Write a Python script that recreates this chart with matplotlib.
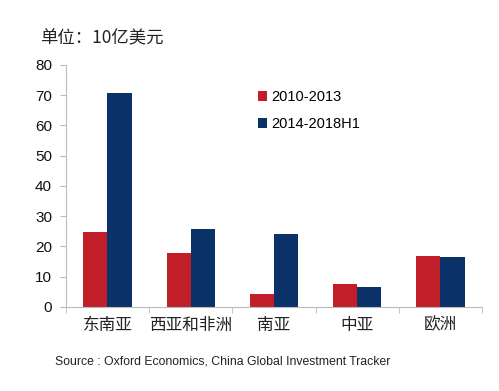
import numpy as np
import matplotlib.pyplot as plt

plt.rcParams['font.family'] = ['Noto Sans CJK SC', 'DejaVu Sans']

regiones = ['东南亚', '西亚和非洲', '南亚', '中亚', '欧洲']
serie_2010_2013 = [24.8, 17.8, 4.3, 7.6, 16.9]
serie_2014_2018 = [70.7, 25.8, 24.1, 6.6, 16.5]
etiquetas = ['2010-2013', '2014-2018H1']
yticks = [0, 10, 20, 30, 40, 50, 60, 70, 80]

rojo = '#C01F2A'
azul = '#0B3169'

fig = plt.figure(figsize=(4.99, 3.91), dpi=100)
ax = fig.add_axes([0.132, 0.215, 0.834, 0.619])

x = np.arange(len(regiones))
ancho = 0.29
ax.bar(x - ancho / 2, serie_2010_2013, ancho, color=rojo, label=etiquetas[0])
ax.bar(x + ancho / 2, serie_2014_2018, ancho, color=azul, label=etiquetas[1])

ax.set_xlim(-0.5, len(regiones) - 0.5)
ax.set_ylim(0, 80)
ax.set_yticks(yticks)
ax.set_yticklabels([str(v) for v in yticks], fontsize=11, family='Liberation Sans',
                   color='#111111')
ax.set_xticks(x)
ax.set_xticklabels(regiones, fontsize=12, color='#222222')
ax.set_xticks(np.arange(-0.5, len(regiones)), minor=True)
ax.tick_params(axis='x', which='major', length=0, pad=7)
ax.tick_params(axis='x', which='minor', length=4, color='#BBBBBB')
ax.tick_params(axis='y', length=4, color='#BBBBBB', pad=6)

for lado in ['top', 'right']:
    ax.spines[lado].set_visible(False)
for lado in ['left', 'bottom']:
    ax.spines[lado].set_color('#BBBBBB')
    ax.spines[lado].set_linewidth(0.8)

ax.legend(loc='upper left', bbox_to_anchor=(0.43, 0.95), frameon=False,
          handlelength=0.6, handleheight=0.6, handletextpad=0.3,
          labelspacing=0.9, prop={'family': 'Liberation Sans', 'size': 10.5})

fig.text(0.08, 0.89, '单位：10亿美元', fontsize=12.5, color='#222222')
fig.text(0.11, 0.068, 'Source : Oxford Economics, China Global Investment Tracker',
         fontsize=8.8, family='Liberation Sans', color='#222222')

plt.savefig('out.png', dpi=100)
